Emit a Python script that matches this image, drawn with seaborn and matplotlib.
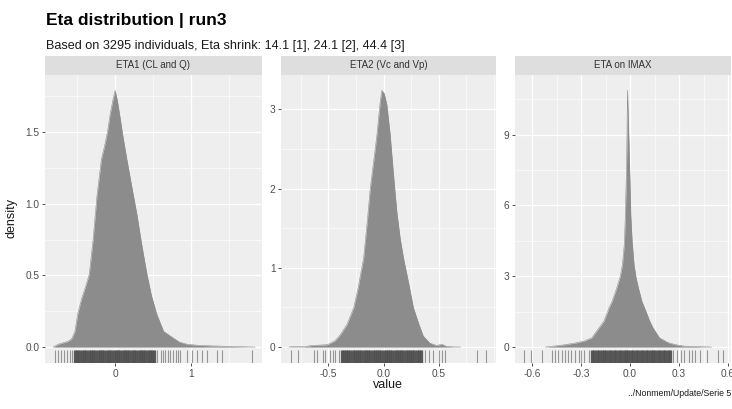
import matplotlib
matplotlib.use("Agg")
import matplotlib.pyplot as plt
from matplotlib.patches import Rectangle
from matplotlib.ticker import MultipleLocator
import pandas as pd
import seaborn as sns

# ---- data -------------------------------------------------------------
panels = ["ETA1 (CL and Q)", "ETA2 (Vc and Vp)", "ETA on IMAX"]

eta1_x = [-0.82, -0.75, -0.62, -0.57, -0.53, -0.49, -0.44, -0.39, -0.34, -0.29,
          -0.24, -0.18, -0.14, -0.10, -0.066, -0.03, 0.0, 0.03, 0.066, 0.10,
          0.155, 0.22, 0.29, 0.35, 0.42, 0.48, 0.55, 0.64, 0.75, 0.85,
          0.95, 1.10, 1.30, 1.50, 1.65, 1.85]
eta1_d = [0.0, 0.02, 0.04, 0.06, 0.11, 0.24, 0.34, 0.42, 0.51, 0.75,
          1.05, 1.31, 1.40, 1.50, 1.62, 1.72, 1.79, 1.72, 1.60, 1.48,
          1.31, 1.12, 0.92, 0.72, 0.51, 0.36, 0.23, 0.11, 0.07, 0.035,
          0.02, 0.012, 0.008, 0.005, 0.003, 0.0]

eta2_x = [-0.86, -0.84, -0.72, -0.65, -0.51, -0.44, -0.39, -0.33, -0.27, -0.23,
          -0.18, -0.15, -0.12, -0.09, -0.06, -0.03, -0.015, 0.006, 0.03, 0.06,
          0.09, 0.12, 0.15, 0.18, 0.23, 0.27, 0.32, 0.36, 0.42, 0.48,
          0.51, 0.53, 0.57, 0.63, 0.70]
eta2_d = [0.0, 0.005, 0.005, 0.02, 0.03, 0.08, 0.16, 0.29, 0.50, 0.75,
          1.13, 1.55, 2.01, 2.34, 2.68, 3.10, 3.24, 3.20, 3.06, 2.68,
          2.18, 1.71, 1.38, 1.13, 0.79, 0.50, 0.29, 0.14, 0.05, 0.02,
          0.03, 0.035, 0.01, 0.003, 0.0]

eta3_x = [-0.52, -0.47, -0.40, -0.33, -0.28, -0.235, -0.19, -0.16, -0.13, -0.11,
          -0.082, -0.06, -0.047, -0.035, -0.029, -0.024, -0.02, -0.016, -0.011, -0.006,
          0.0, 0.004, 0.012, 0.024, 0.036, 0.051, 0.072, 0.095, 0.12, 0.14,
          0.18, 0.235, 0.28, 0.33, 0.43, 0.50]
eta3_d = [0.0, 0.04, 0.10, 0.18, 0.26, 0.39, 0.82, 1.10, 1.65, 1.94,
          2.50, 3.0, 3.49, 4.4, 5.6, 7.0, 8.4, 10.87, 9.6, 8.4,
          6.8, 5.6, 4.5, 3.49, 2.95, 2.50, 1.94, 1.55, 1.10, 0.82,
          0.39, 0.18, 0.10, 0.04, 0.02, 0.0]

# individual eta values shown as rug ticks (sparse tails)
eta1_rug_tail = [-0.79, -0.75, -0.72, -0.68, -0.64, -0.60, -0.57,
                 0.56, 0.60, 0.63, 0.66, 0.70, 0.73, 0.77, 0.80, 0.83, 0.86,
                 0.95, 1.01, 1.08, 1.15, 1.21, 1.34, 1.41, 1.81]
eta2_rug_tail = [-0.84, -0.78, -0.63, -0.60, -0.55, -0.53, -0.49, -0.46, -0.44, -0.40,
                 0.375, 0.41, 0.45, 0.50, 0.53, 0.56, 0.85, 0.93]
eta3_rug_tail = [-0.65, -0.61, -0.54, -0.48, -0.46, -0.44, -0.42, -0.40, -0.38, -0.36,
                 -0.34, -0.31, -0.30, -0.28, -0.25,
                 0.265, 0.29, 0.31, 0.33, 0.36, 0.38, 0.40, 0.43, 0.47, 0.54, 0.57]

# crowded central values (ticks merge into a solid band)
eta1_rug_core = [-0.53, -0.50, -0.47, -0.44, -0.41, -0.38, -0.35, -0.32, -0.29, -0.26,
                 -0.23, -0.20, -0.17, -0.14, -0.11, -0.08, -0.05, -0.02, 0.01, 0.04,
                 0.07, 0.10, 0.13, 0.16, 0.19, 0.22, 0.25, 0.28, 0.31, 0.34,
                 0.37, 0.40, 0.43, 0.46, 0.49, 0.52]
eta2_rug_core = [-0.38, -0.36, -0.34, -0.32, -0.30, -0.28, -0.26, -0.24, -0.22, -0.20,
                 -0.18, -0.16, -0.14, -0.12, -0.10, -0.08, -0.06, -0.04, -0.02, 0.0,
                 0.02, 0.04, 0.06, 0.08, 0.10, 0.12, 0.14, 0.16, 0.18, 0.20,
                 0.22, 0.24, 0.26, 0.28, 0.30, 0.32, 0.34]
eta3_rug_core = [-0.235, -0.22, -0.205, -0.19, -0.175, -0.16, -0.145, -0.13, -0.115, -0.10,
                 -0.085, -0.07, -0.055, -0.04, -0.025, -0.01, 0.005, 0.02, 0.035, 0.05,
                 0.065, 0.08, 0.095, 0.11, 0.125, 0.14, 0.155, 0.17, 0.185, 0.20,
                 0.215, 0.23, 0.245]

x_limits = [(-0.925, 1.94), (-0.93, 1.02), (-0.705, 0.618)]
x_major = [1.0, 0.5, 0.3]
y_major = [0.5, 1.0, 3.0]
x_ticks = [[0, 1], [-0.5, 0.0, 0.5], [-0.6, -0.3, 0.0, 0.3, 0.6]]
x_ticklabels = [["0", "1"], ["-0.5", "0.0", "0.5"], ["-0.6", "-0.3", "0.0", "0.3", "0.6"]]
y_ticks = [[0, 0.5, 1.0, 1.5], [0, 1, 2, 3], [0, 3, 6, 9]]
y_ticklabels = [["0.0", "0.5", "1.0", "1.5"], ["0", "1", "2", "3"], ["0", "3", "6", "9"]]

title = "Eta distribution | run3"
subtitle = "Based on 3295 individuals, Eta shrink: 14.1 [1], 24.1 [2], 44.4 [3]"
caption = "../Nonmem/Update/Serie 5"

# ---- styling ----------------------------------------------------------
sns.set_theme(style="darkgrid")
plt.rcParams["font.family"] = ["Liberation Sans", "DejaVu Sans"]

panel_bg = "#EEEEEE"
strip_bg = "#DEDEDE"
fill_col = "#8C8C8C"
rug_col = "#505050"
tick_text = "#4D4D4D"

W, H = 732, 409
fig = plt.figure(figsize=(W / 100, H / 100), dpi=100)
fig.patch.set_facecolor("white")

panel_left = [45, 281, 515]
panel_right = [262, 496, 731]
panel_top, panel_bottom = 75, 363
strip_h = 19
panel_h = panel_bottom - panel_top

density_sets = [(eta1_x, eta1_d), (eta2_x, eta2_d), (eta3_x, eta3_d)]
rug_tails = [eta1_rug_tail, eta2_rug_tail, eta3_rug_tail]
rug_cores = [eta1_rug_core, eta2_rug_core, eta3_rug_core]

for i, name in enumerate(panels):
    l, r = panel_left[i], panel_right[i]
    ax = fig.add_axes([l / W, 1 - panel_bottom / H, (r - l) / W, panel_h / H])
    ax.set_facecolor(panel_bg)
    xs, ds = density_sets[i]
    df = pd.DataFrame({"value": xs, "density": ds})

    ax.fill_between(df["value"], 0, df["density"], color=fill_col, lw=0, zorder=2)
    sns.lineplot(data=df, x="value", y="density", ax=ax, color=fill_col,
                 linewidth=0.4, zorder=2)

    sns.rugplot(x=rug_cores[i], ax=ax, height=0.045, color=rug_col,
                linewidth=2.4, alpha=0.95, expand_margins=False)
    sns.rugplot(x=rug_tails[i], ax=ax, height=0.045, color="#5A5A5A",
                linewidth=0.8, alpha=0.6, expand_margins=False)

    peak = max(ds)
    ax.set_ylim(-0.062 * peak, 1.06 * peak)
    ax.set_xlim(*x_limits[i])

    ax.xaxis.set_minor_locator(MultipleLocator(x_major[i] / 2))
    ax.yaxis.set_minor_locator(MultipleLocator(y_major[i] / 2))
    ax.set_xticks(x_ticks[i])
    ax.set_xticklabels(x_ticklabels[i])
    ax.set_yticks(y_ticks[i])
    ax.set_yticklabels(y_ticklabels[i])
    ax.grid(which="major", color="white", lw=0.9)
    ax.grid(which="minor", color="white", lw=0.45)
    ax.set_axisbelow(True)

    ax.tick_params(axis="both", which="major", length=2.5, width=0.6,
                   color="#333333", labelsize=7.3, labelcolor=tick_text, pad=1.5)
    ax.tick_params(axis="both", which="minor", length=0)
    ax.tick_params(axis="both", which="both", bottom=True, left=True)
    for s in ax.spines.values():
        s.set_visible(False)
    ax.set_xlabel("")
    ax.set_ylabel("")

    # facet strip
    strip = Rectangle((0, 1), 1, strip_h / panel_h, transform=ax.transAxes,
                      facecolor=strip_bg, edgecolor="none", clip_on=False)
    ax.add_patch(strip)
    ax.text(0.5, 1 + strip_h / 2 / panel_h, name, transform=ax.transAxes,
            ha="center", va="center", fontsize=7.0, color="#333333")

fig.text(46 / W, 1 - 25 / H, title, fontsize=12.5, fontweight="bold",
         ha="left", va="baseline", color="black")
fig.text(46 / W, 1 - 48.5 / H, subtitle, fontsize=9.1, ha="left",
         va="baseline", color="#1A1A1A")
fig.text((45 + 731) / 2 / W, 1 - 385.5 / H, "value", fontsize=9.0,
         ha="center", va="center", color="#1A1A1A")
fig.text(12 / W, 1 - 218 / H, "density", fontsize=9.0, rotation=90,
         ha="center", va="center", color="#1A1A1A")
fig.text(731 / W, 1 - 394 / H, caption, fontsize=6.3, ha="right",
         va="center", color="#1A1A1A")

fig.savefig("out.png", dpi=100)
